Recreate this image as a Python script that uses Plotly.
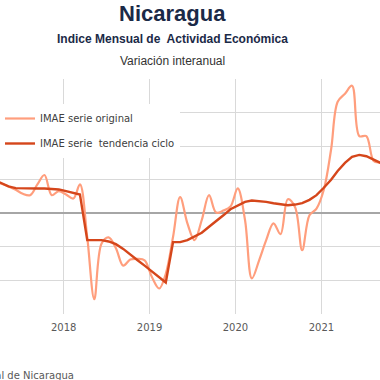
import pandas as pd
import plotly.graph_objects as go

# Monthly observations, March 2017 .. October 2021
start_month = "2017-03-01"
original = [4.8, 4.4, 4.0, 3.5, 2.9, 2.7, 4.3, 5.7, 2.7, 3.3, 2.8, 2.2,
            4.3, -3.6, -12.8, -4.5, -3.6, -5.2, -7.8, -6.9, -6.8, -7.0, -9.5, -11.2,
            -9.0, -3.5, 2.4, -1.5, -4.0, -1.0, 2.7, 0.1, 0.4, 1.0, 3.7, -1.0,
            -9.7, -7.0, -4.0, -1.5, -3.1, 2.1, 0.9, -5.5, -0.3, 0.7, 3.5, 9.5,
            16.6, 17.8, 19.0, 11.5, 11.5, 7.8, 7.5, 7.0]
tendencia = [5.0, 4.5, 4.0, 3.75, 3.7, 3.7, 3.7, 3.7, 3.65, 3.55, 3.3, 3.0,
             2.8, -4.0, -4.0, -4.0, -4.2, -4.6, -5.3, -6.2, -7.0, -7.8, -8.7, -9.5,
             -10.3, -4.3, -4.3, -4.0, -3.5, -2.9, -2.0, -1.2, -0.3, 0.6, 1.2, 1.7,
             1.9, 1.85, 1.7, 1.5, 1.3, 1.2, 1.3, 1.5, 2.0, 2.7, 3.8, 5.0,
             6.3, 7.5, 8.4, 8.7, 8.5, 8.0, 7.5, 7.0]
months = pd.date_range(start_month, periods=len(original), freq="MS") + pd.Timedelta(days=10)

series_names = ["IMAE serie original", "IMAE serie  tendencia ciclo"]
x_range = ["2017-04-05", "2021-09-07"]
y_range = [-15, 20]

fig = go.Figure()
fig.add_trace(go.Scatter(x=months, y=original, mode="lines", name=series_names[0],
                         legendgroup="a",
                         line=dict(color="#FF9E7D", width=2.2, shape="spline", smoothing=1.0)))
fig.add_trace(go.Scatter(x=months, y=tendencia, mode="lines", name=series_names[1],
                         legendgroup="b",
                         line=dict(color="#D5461B", width=2.4, shape="linear")))

fig.update_layout(
    width=380, height=380,
    margin=dict(l=0, r=0, t=79, b=66),
    paper_bgcolor="white", plot_bgcolor="white",
    showlegend=True,
    legend=dict(x=0, y=1 - (104-79)/235, xanchor="left", yanchor="top",
                bgcolor="white", borderwidth=0,
                font=dict(family="DejaVu Sans", size=10, color="#404040"),
                itemwidth=30, tracegroupgap=6),
)
fig.add_annotation(text="<b>Nicaragua</b>", xref="paper", yref="paper",
                   x=172/380, y=1 + (79-14)/235, xanchor="center", yanchor="middle",
                   showarrow=False, font=dict(family="Liberation Sans", size=22, color="#1B2A47"))
fig.add_annotation(text="<b>Indice Mensual de  Actividad Económica</b>", xref="paper", yref="paper",
                   x=172/380, y=1 + (79-39)/235, xanchor="center", yanchor="middle",
                   showarrow=False, font=dict(family="Liberation Sans", size=12, color="#1B2A47"))
fig.add_annotation(text="Variación interanual", xref="paper", yref="paper",
                   x=172/380, y=1 + (79-61)/235, xanchor="center", yanchor="middle",
                   showarrow=False, font=dict(family="Liberation Sans", size=12, color="#333333"))
fig.add_annotation(text="Fuente: Banco Central de Nicaragua", xref="paper", yref="paper",
                   x=76/380, y=-(375-314)/235, xanchor="right", yanchor="middle",
                   showarrow=False, font=dict(family="DejaVu Sans", size=10, color="#595959"))

fig.update_xaxes(type="date", range=x_range, dtick="M12", tick0="2018-01-01", tickformat="%Y",
                 showgrid=True, gridcolor="#D9D9D9", gridwidth=1,
                 showline=False, ticks="", zeroline=False, ticklabelstandoff=6,
                 tickfont=dict(family="DejaVu Sans", size=10, color="#595959"))
fig.update_yaxes(range=y_range, dtick=5, showticklabels=False,
                 showgrid=True, gridcolor="#D9D9D9", gridwidth=1,
                 zeroline=True, zerolinecolor="#A6A6A6", zerolinewidth=1.5,
                 showline=False)

fig.write_html("out.html", config={"displayModeBar": False},
               post_script="document.body.style.margin='0';")
